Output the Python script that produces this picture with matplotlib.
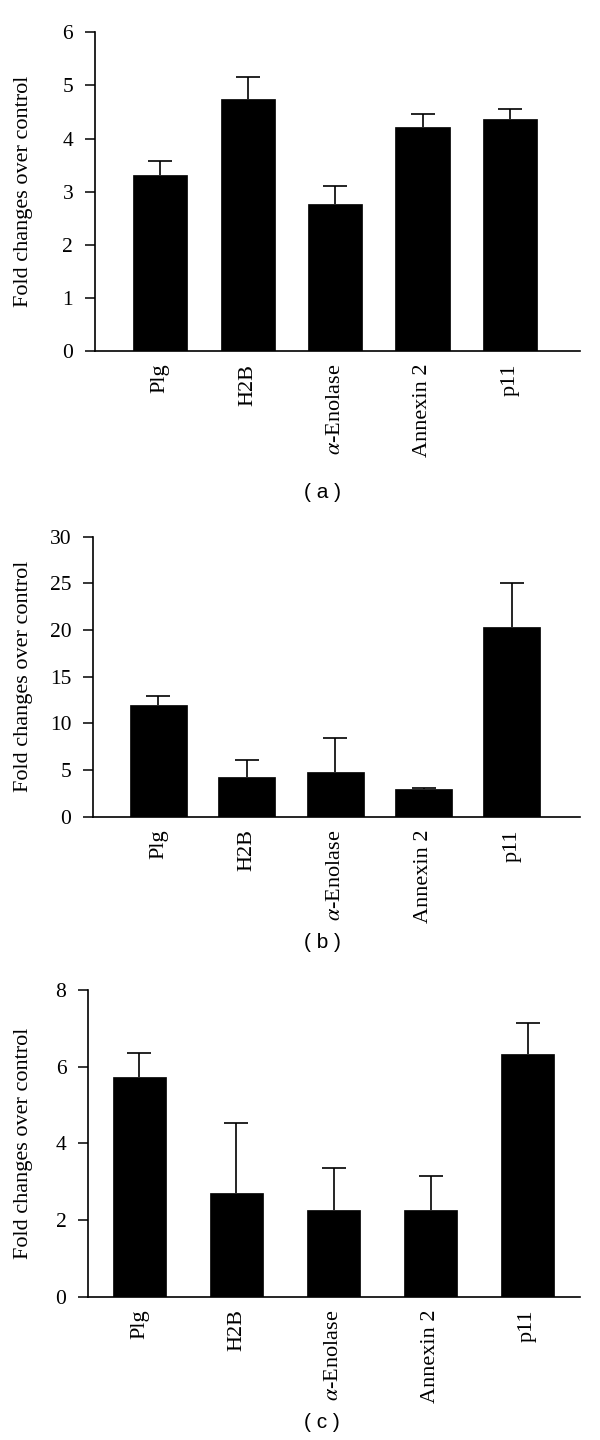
import matplotlib
matplotlib.use("Agg")
import matplotlib.pyplot as plt
import numpy as np

categories = ["Plg", "H2B", r"$\alpha$-Enolase", "Annexin 2", "p11"]

values_a = [3.31, 4.74, 2.77, 4.22, 4.36]
errors_a = [0.27, 0.42, 0.33, 0.25, 0.20]

values_b = [11.94, 4.29, 4.75, 2.97, 20.36]
errors_b = [1.03, 1.79, 3.65, 0.11, 4.64]

values_c = [5.72, 2.71, 2.26, 2.26, 6.33]
errors_c = [0.64, 1.83, 1.10, 0.90, 0.80]

yticks_a = [0, 1, 2, 3, 4, 5, 6]
yticks_b = [0, 5, 10, 15, 20, 25, 30]
yticks_c = [0, 2, 4, 6, 8]

panel_labels = ["( a )", "( b )", "( c )"]
ylabel = "Fold changes over control"

plt.rcParams["mathtext.fontset"] = "stix"

fig = plt.figure(figsize=(6, 14.4), dpi=100)

W, H = 600.0, 1440.0

def px_axes(left, right, top, bottom):
    return fig.add_axes([left / W, 1 - bottom / H, (right - left) / W, (bottom - top) / H])

specs = [
    dict(vals=values_a, errs=errors_a, ticks=yticks_a, box=(94.7, 580, 32.3, 351),
         xlim=(-0.75, 4.8), width=0.62, label=panel_labels[0], ly=492),
    dict(vals=values_b, errs=errors_b, ticks=yticks_b, box=(93, 580, 536.7, 816.7),
         xlim=(-0.74, 4.77), width=0.645, label=panel_labels[1], ly=942),
    dict(vals=values_c, errs=errors_c, ticks=yticks_c, box=(88, 580, 990, 1296.7),
         xlim=(-0.53, 4.54), width=0.54, label=panel_labels[2], ly=1423),
]

serif = "Liberation Serif"

for s in specs:
    ax = px_axes(*s["box"])
    x = np.arange(len(categories))
    ax.bar(x, s["vals"], width=s["width"], color="black", edgecolor="black",
           linewidth=0.5, zorder=2)
    eb = ax.errorbar(x, s["vals"], yerr=[np.zeros(len(x)), s["errs"]], fmt="none",
                     ecolor="black", elinewidth=1.2, capsize=8.6, capthick=1.2, zorder=1)
    for cl in eb[1]:
        if np.allclose(cl.get_ydata(), s["vals"]):
            cl.set_visible(False)
    ax.set_xlim(*s["xlim"])
    ax.set_ylim(s["ticks"][0], s["ticks"][-1])
    ax.set_yticks(s["ticks"])
    ax.set_yticklabels([str(t) for t in s["ticks"]], fontfamily=serif, fontsize=15.5)
    ax.set_xticks(x)
    ax.set_xticklabels(categories, rotation=90, fontfamily=serif, fontsize=16,
                       va="top", ha="center")
    ax.tick_params(axis="x", length=0, pad=9)
    ax.tick_params(axis="y", length=7.5, width=1.1, pad=8, direction="out")
    for sp in ["top", "right"]:
        ax.spines[sp].set_visible(False)
    for sp in ["left", "bottom"]:
        ax.spines[sp].set_linewidth(1.2)
    ax.set_ylabel(ylabel, fontfamily=serif, fontsize=16)
    ax.yaxis.set_label_coords(-(s["box"][0] - 33) / (s["box"][1] - s["box"][0]), 0.5)
    fig.text(322 / W, 1 - s["ly"] / H, s["label"], ha="center", va="center",
             fontfamily="Liberation Sans", fontsize=15)

fig.savefig("out.png", dpi=100)
